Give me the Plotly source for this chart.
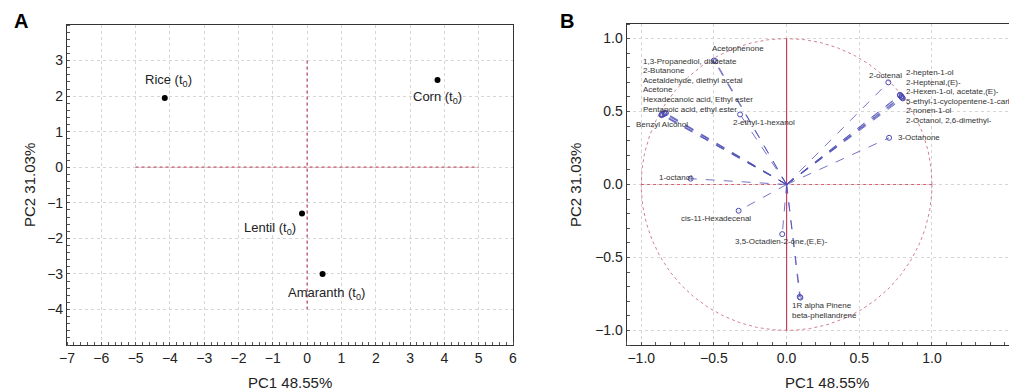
import plotly.graph_objects as go
import numpy as np

# ---- Panel A: PCA scores ----
sample_names = ["Rice (t<sub>0</sub>)", "Corn (t<sub>0</sub>)", "Lentil (t<sub>0</sub>)", "Amaranth (t<sub>0</sub>)"]
pc1_scores = [-4.15, 3.8, -0.15, 0.45]
pc2_scores = [1.95, 2.45, -1.3, -3.0]
# label offsets in data units (text placement)
score_lbl_dx = [0.1, 0.0, -0.93, 0.12]
score_lbl_dy = [0.5, -0.5, -0.42, -0.56]

a_xticks = list(range(-7, 7))
a_yticks = list(range(-4, 4))

# ---- Panel B: loadings ----
var_names = [
    "Acetophenone", "1,3-Propanediol, diacetate", "2-Butanone",
    "Acetaldehyde, diethyl acetal", "Acetone", "Hexadecanoic acid, Ethyl ester",
    "Pentanoic acid, ethyl ester", "Benzyl Alcohol", "2-ethyl-1-hexanol",
    "1-octanol", "cis-11-Hexadecenal", "3,5-Octadien-2-one,(E,E)-",
    "1R alpha Pinene", "beta-phellandrene", "2-octenal",
    "2-hepten-1-ol", "2-Heptenal,(E)-", "2-Hexen-1-ol, acetate,(E)-",
    "5-ethyl-1-cyclopentene-1-carbaldehyde", "2-nonen-1-ol",
    "2-Octanol, 2,6-dimethyl-", "3-Octanone",
]
pc1_load = [-0.50, -0.49, -0.84, -0.85, -0.83, -0.86, -0.84, -0.86, -0.32,
            -0.66, -0.33, -0.03, 0.09, 0.095, 0.70,
            0.78, 0.79, 0.78, 0.795, 0.79, 0.80, 0.705]
pc2_load = [0.85, 0.845, 0.49, 0.48, 0.49, 0.475, 0.485, 0.48, 0.48,
            0.04, -0.18, -0.34, -0.77, -0.775, 0.70,
            0.61, 0.60, 0.615, 0.595, 0.605, 0.59, 0.32]
# label anchor positions in data units
lbl_x = [-0.53, -1.0, -1.0, -1.0, -1.0, -1.0, -1.0, -1.05, -0.38,
         -0.89, -0.74, -0.37, 0.02, 0.02, 0.55,
         0.81, 0.81, 0.81, 0.81, 0.81, 0.81, 0.75]
lbl_y = [0.935, 0.845, 0.78, 0.715, 0.648, 0.58, 0.515, 0.41, 0.425,
         0.05, -0.235, -0.39, -0.83, -0.895, 0.745,
         0.765, 0.7, 0.635, 0.57, 0.505, 0.44, 0.325]

b_ticks = [-1.0, -0.5, 0.0, 0.5, 1.0]

# page has an 8px body margin: figure occupies window pixels 8..1017 x 8..391
W, H, OFF = 1009, 383, 8
def px(X):
    return (X - OFF) / W
def py(Y):
    return 1 - (Y - OFF) / H

fig = go.Figure()

# Panel A reference lines
fig.add_trace(go.Scatter(x=[-5, 5], y=[0, 0], mode="lines", xaxis="x", yaxis="y",
                         line=dict(color="#c0506a", width=1.3, dash="dot"), hoverinfo="skip", showlegend=False))
fig.add_trace(go.Scatter(x=[0, 0], y=[3, -4], mode="lines", xaxis="x", yaxis="y",
                         line=dict(color="#c0506a", width=1.3, dash="dot"), hoverinfo="skip", showlegend=False))
fig.add_trace(go.Scatter(x=pc1_scores, y=pc2_scores, mode="markers", xaxis="x", yaxis="y",
                         marker=dict(color="black", size=6), showlegend=False))

# Panel B circle and axes
th = np.linspace(0, 2 * np.pi, 361)
fig.add_trace(go.Scatter(x=np.cos(th), y=np.sin(th), mode="lines", xaxis="x2", yaxis="y2",
                         line=dict(color="#d08090", width=1, dash="dot"), hoverinfo="skip", showlegend=False))
fig.add_trace(go.Scatter(x=[-1, 1], y=[0, 0], mode="lines", xaxis="x2", yaxis="y2",
                         line=dict(color="#d06070", width=1.2, dash="dot"), hoverinfo="skip", showlegend=False))
fig.add_trace(go.Scatter(x=[0, 0], y=[-1, 1], mode="lines", xaxis="x2", yaxis="y2",
                         line=dict(color="#c84060", width=1.2), hoverinfo="skip", showlegend=False))
vx, vy = [], []
for a, b in zip(pc1_load, pc2_load):
    vx += [0, a, None]
    vy += [0, b, None]
fig.add_trace(go.Scatter(x=vx, y=vy, mode="lines", xaxis="x2", yaxis="y2",
                         line=dict(color="#5050b8", width=0.8, dash="dash"), hoverinfo="skip", showlegend=False))
fig.add_trace(go.Scatter(x=pc1_load, y=pc2_load, mode="markers", xaxis="x2", yaxis="y2",
                         marker=dict(symbol="circle-open", color="#4a4ab0", size=5, line=dict(width=1)),
                         showlegend=False))

annotations = []
for name, x, y, dx, dy in zip(sample_names, pc1_scores, pc2_scores, score_lbl_dx, score_lbl_dy):
    annotations.append(dict(x=x + dx, y=y + dy, xref="x", yref="y", text=name, showarrow=False,
                            font=dict(size=13, color="#222"), xanchor="center", yanchor="middle"))
for name, x, y in zip(var_names, lbl_x, lbl_y):
    annotations.append(dict(x=x, y=y, xref="x2", yref="y2", text=name, showarrow=False,
                            font=dict(size=8, color="#333"), xanchor="left", yanchor="middle"))
annotations.append(dict(x=px(12), y=py(8), xref="paper", yref="paper", text="<b>A</b>", showarrow=False,
                        font=dict(size=20, color="black"), xanchor="left", yanchor="top"))
annotations.append(dict(x=px(558), y=py(8), xref="paper", yref="paper", text="<b>B</b>", showarrow=False,
                        font=dict(size=20, color="black"), xanchor="left", yanchor="top"))
# axis titles
for X, Y, txt, ang in [(290, 382, "PC1 48.55%", 0),
                       (29, 185, "PC2 31.03%", -90),
                       (827, 382, "PC1 48.55%", 0),
                       (575, 185, "PC2 31.03%", -90)]:
    annotations.append(dict(x=px(X), y=py(Y), xref="paper", yref="paper", text=txt, showarrow=False,
                            textangle=ang, font=dict(size=15, color="#222"),
                            xanchor="center", yanchor="middle"))

def ax(minor_dtick):
    return dict(showgrid=True, gridcolor="#d6d6d6", griddash="dot", gridwidth=1, zeroline=False,
                showline=True, linecolor="#333", linewidth=1.2, automargin=False,
                ticks="", tickfont=dict(size=14, color="#222"),
                minor=dict(ticks="inside", ticklen=3, tickcolor="#555", dtick=minor_dtick, showgrid=False))

fig.update_layout(
    width=W, height=H, margin=dict(l=0, r=0, t=0, b=0),
    paper_bgcolor="white", plot_bgcolor="white",
    font=dict(family="Liberation Sans, Arial, sans-serif"),
    showlegend=False,
    annotations=annotations,
    xaxis=dict(domain=[px(67), px(513)], range=[-7, 6], tickvals=a_xticks, mirror=True,
               anchor="y", **ax(0.2)),
    yaxis=dict(domain=[py(345), py(25)], range=[-5, 4], tickvals=a_yticks, mirror=True,
               anchor="x", **ax(0.2)),
    xaxis2=dict(domain=[px(626.7), 1.0], range=[-1.1, 1.585], tickvals=b_ticks, tickformat=".1f", mirror=True,
                anchor="y2", **ax(0.1)),
    yaxis2=dict(domain=[py(345), py(24)], range=[-1.1, 1.1], tickvals=b_ticks, tickformat=".1f",
                anchor="x2", **ax(0.1)),
)

fig.write_html("out.html")
